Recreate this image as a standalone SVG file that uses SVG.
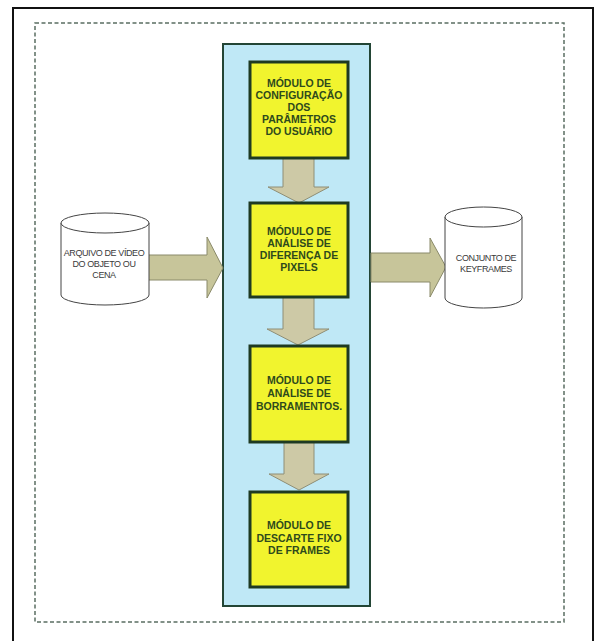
<svg xmlns="http://www.w3.org/2000/svg" width="595" height="641" viewBox="0 0 595 641">
<style>
.mod{fill:#f1f42e;stroke:#1e3a22;stroke-width:3}
.mt{font-family:"Liberation Sans",Arial,sans-serif;font-size:10.5px;font-weight:bold;fill:#2e4a1c;text-anchor:middle}
.ct{font-family:"Liberation Sans",Arial,sans-serif;font-size:9px;fill:#3a3a3a;text-anchor:middle;letter-spacing:-0.4px}
.cyl{fill:#ffffff;stroke:#444;stroke-width:1}
.va{fill:#cdc9a6;stroke:#8e8e76;stroke-width:1}
.ha{fill:#c7c59a;stroke:#8a8a6a;stroke-width:1}
</style>
<rect width="595" height="641" fill="#ffffff"/>
<path d="M13,641 V8 H593 V641" fill="none" stroke="#111" stroke-width="2"/>
<rect x="35" y="23" width="529" height="599" fill="none" stroke="#5a6e62" stroke-width="1.5" stroke-dasharray="4,2.5"/>
<g id="panel">
<rect x="223" y="44" width="147" height="562" fill="#bfe8f6" stroke="#234535" stroke-width="2"/>
</g>
<g id="connectors">
<path class="va" d="M283,158 H314 V187 H329 L299,203 L268,187 H283 Z"/>
<path class="va" d="M283,297 H314 V329 H329 L298,345 L267,329 H283 Z"/>
<path class="va" d="M284,442 H314 V474 H329 L299,490 L269,474 H284 Z"/>
<path class="ha" d="M148,255 H207 V237 L223,268 L207,298 V280 H148 Z"/>
<path class="ha" d="M371,253 H430 V238 L446,267 L430,297 V282 H371 Z"/>
</g>
<g id="mod1">
<rect class="mod" x="250" y="62" width="98" height="96"/>
<text class="mt" x="299" y="87">MÓDULO DE</text>
<text class="mt" x="299" y="99">CONFIGURAÇÃO</text>
<text class="mt" x="299" y="111">DOS</text>
<text class="mt" x="299" y="123">PARÂMETROS</text>
<text class="mt" x="299" y="135">DO USUÁRIO</text>
</g>
<g id="mod2">
<rect class="mod" x="250" y="203" width="98" height="94"/>
<text class="mt" x="299" y="235">MÓDULO DE</text>
<text class="mt" x="299" y="247">ANÁLISE DE</text>
<text class="mt" x="299" y="259">DIFERENÇA DE</text>
<text class="mt" x="299" y="271">PIXELS</text>
</g>
<g id="mod3">
<rect class="mod" x="250" y="346" width="98" height="96"/>
<text class="mt" x="299" y="384">MÓDULO DE</text>
<text class="mt" x="299" y="397">ANÁLISE DE</text>
<text class="mt" x="299" y="410">BORRAMENTOS.</text>
</g>
<g id="mod4">
<rect class="mod" x="250" y="492" width="98" height="95"/>
<text class="mt" x="299" y="529">MÓDULO DE</text>
<text class="mt" x="299" y="542">DESCARTE FIXO</text>
<text class="mt" x="299" y="554">DE FRAMES</text>
</g>
<g id="input">
<path class="cyl" d="M61,223 V295 A44,10 0 0 0 149,295 V223"/>
<ellipse class="cyl" cx="105" cy="223" rx="44" ry="10"/>
<text class="ct" x="104" y="256">ARQUIVO DE VÍDEO</text>
<text class="ct" x="104" y="267">DO OBJETO OU</text>
<text class="ct" x="104" y="278">CENA</text>
</g>
<g id="output">
<path class="cyl" d="M445,217 V298 A38.5,10 0 0 0 522,298 V217"/>
<ellipse class="cyl" cx="483.5" cy="217" rx="38.5" ry="10"/>
<text class="ct" x="486" y="261">CONJUNTO DE</text>
<text class="ct" x="486" y="272">KEYFRAMES</text>
</g>
</svg>
